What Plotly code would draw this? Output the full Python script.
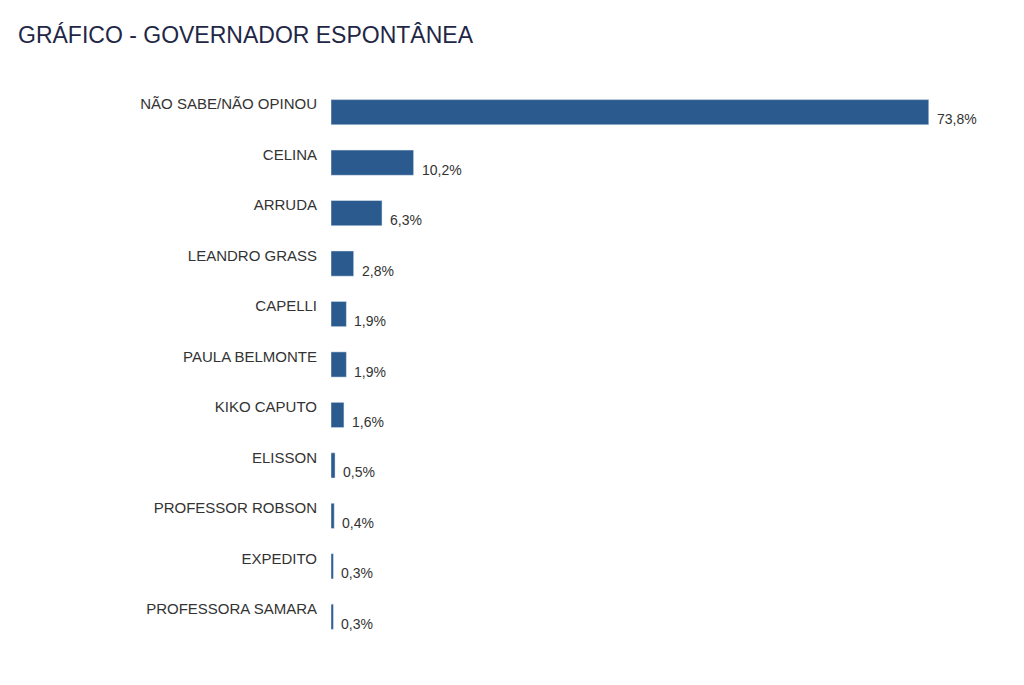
import plotly.graph_objects as go

candidatos = ["NÃO SABE/NÃO OPINOU", "CELINA", "ARRUDA", "LEANDRO GRASS", "CAPELLI",
              "PAULA BELMONTE", "KIKO CAPUTO", "ELISSON", "PROFESSOR ROBSON",
              "EXPEDITO", "PROFESSORA SAMARA"]
percentuais = [73.8, 10.2, 6.3, 2.8, 1.9, 1.9, 1.6, 0.5, 0.4, 0.3, 0.3]
rotulos = [f"{v:.1f}%".replace(".", ",") for v in percentuais]

cor_barra = "#2b5b8e"
fonte = "Liberation Sans, Arial, sans-serif"

fig = go.Figure()
fig.add_trace(go.Bar(
    x=percentuais, y=candidatos, orientation="h",
    marker_color=cor_barra, width=0.5,
    hoverinfo="skip",
))

# rótulos de valor, um pouco abaixo do centro da barra
for c, v, r in zip(candidatos, percentuais, rotulos):
    fig.add_annotation(x=v, y=c, text=r, showarrow=False,
                       xanchor="left", xshift=6, yshift=-7,
                       font=dict(family=fonte, size=14, color="#333333"))

fig.update_layout(
    width=1024, height=685,
    margin=dict(l=323, r=53, t=79, b=51),
    paper_bgcolor="white", plot_bgcolor="white",
    showlegend=False,
    title=dict(text="GRÁFICO - GOVERNADOR ESPONTÂNEA", x=0.0098, xanchor="left",
               y=0.9606, yanchor="middle",
               font=dict(family=fonte, size=23, color="#1f2747")),
    font=dict(family=fonte),
)
fig.update_xaxes(range=[0, 80], visible=False, fixedrange=True)
fig.update_yaxes(autorange="reversed", showgrid=False, zeroline=False,
                 showline=False, ticks="", ticklabelstandoff=13,
                 ticklabelshift=8,
                 tickfont=dict(family=fonte, size=15, color="#333333"))

fig.write_html("out.html")
